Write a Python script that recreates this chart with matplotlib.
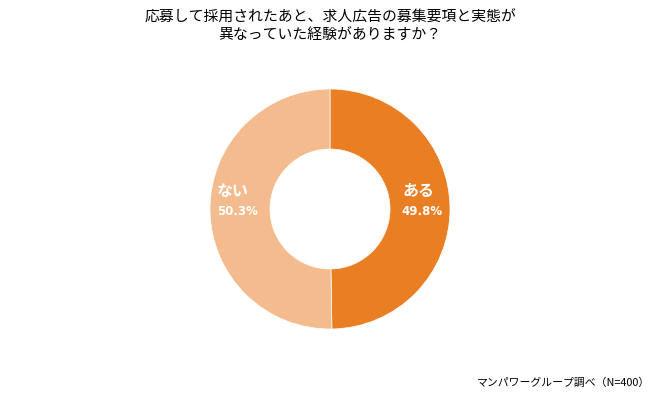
import matplotlib.pyplot as plt

plt.rcParams['font.family'] = ['Noto Sans CJK JP', 'DejaVu Sans']

labels = ['ある', 'ない']
values = [49.8, 50.3]
colors = ['#E97E22', '#F4BC8E']

fig = plt.figure(figsize=(6.6, 4.0), dpi=100)
ax = fig.add_axes([(330 - 120) / 660, (191 - 120) / 400, 240 / 660, 240 / 400])

ax.pie(values, colors=colors, startangle=90, counterclock=False, radius=1.0,
       wedgeprops=dict(width=0.5, edgecolor='white', linewidth=0.5))
ax.set_xlim(-1, 1)
ax.set_ylim(-1, 1)
ax.set_aspect('equal')

# x of label and percent inside the ring (data units)
label_x = {'ある': 0.74, 'ない': -0.81}
pct_x = {'ある': 0.77, 'ない': -0.77}
for lab, val in zip(labels, values):
    ax.text(label_x[lab], 0.15, lab, ha='center', va='center', color='white',
            fontsize=11.5, fontweight='bold')
    ax.text(pct_x[lab], -0.02, f'{val:.1f}%', ha='center', va='center', color='white',
            fontsize=8.5, fontweight='bold', family='DejaVu Sans')

fig.text(0.5, 1 - 27 / 400, '応募して採用されたあと、求人広告の募集要項と実態が\n異なっていた経験がありますか？',
         ha='center', va='center', fontsize=10.7, linespacing=1.35)
fig.text(650 / 660, 1 - 383 / 400, 'マンパワーグループ調べ（N=400）', ha='right', va='center',
         fontsize=7.8)

fig.savefig('out.png', dpi=100)
